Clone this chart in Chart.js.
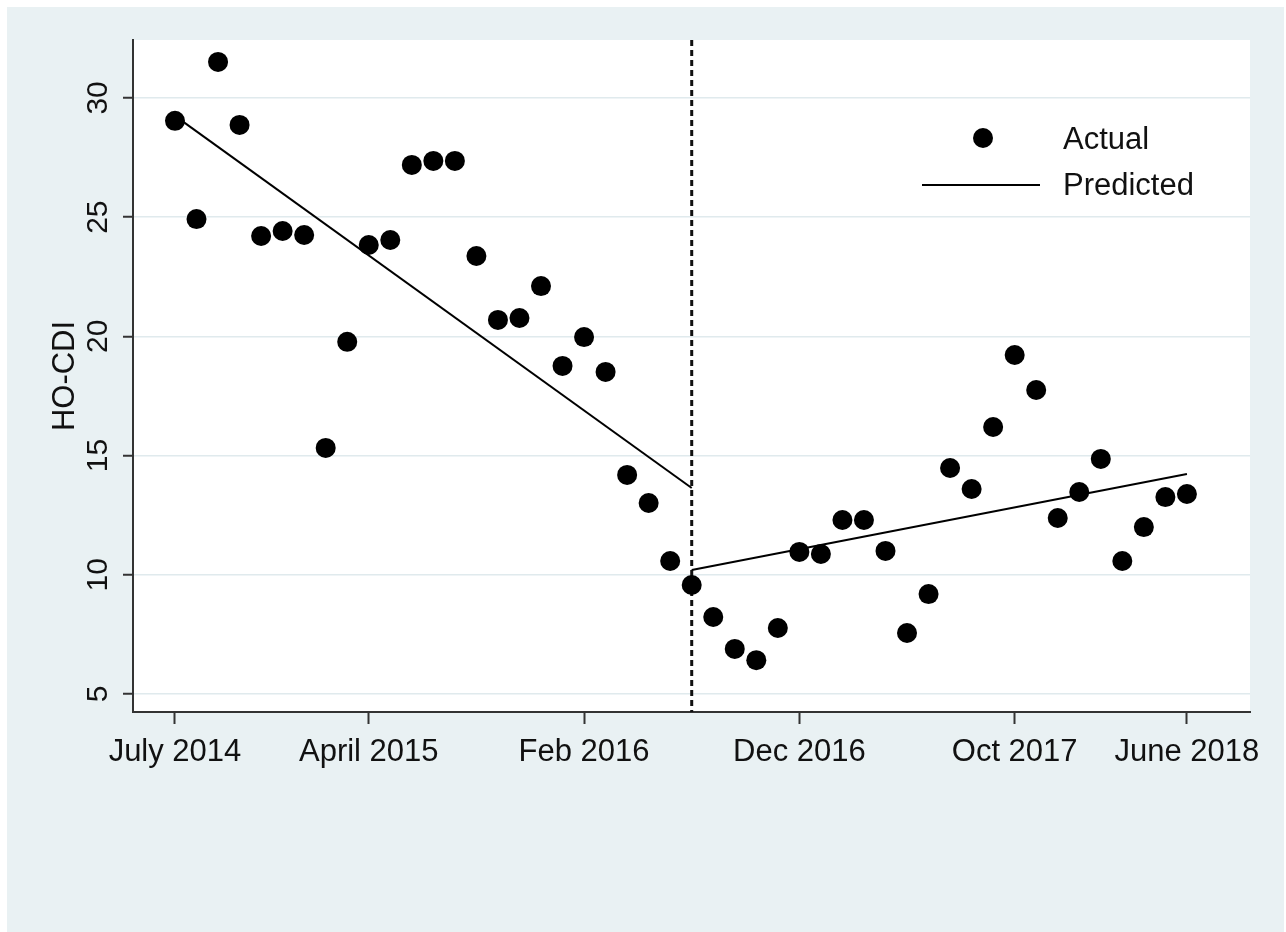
<!DOCTYPE html>
<html>
<head>
<meta charset="utf-8">
<script src="https://cdn.jsdelivr.net/npm/chart.js@4.4.1/dist/chart.umd.min.js"></script>
<style>
    html, body { margin: 0; padding: 0; background: #fff; }
    #wrap { position: relative; width: 1286px; height: 932px; }
    canvas { position: absolute; left: 0; top: 0; }
</style>
</head>
<body>
<div id="wrap"><canvas id="hoCdiChart" width="1286" height="932"></canvas></div>
<script>
//---------------------------------
//Data (month index 0 = July 2014)
const actualMonths = [0, 1, 2, 3, 4, 5, 6, 7, 8, 9, 10, 11, 12, 13, 14, 15, 16, 17, 18, 19, 20, 21, 22, 23,
    24, 25, 26, 27, 28, 29, 30, 31, 32, 33, 34, 35, 36, 37, 38, 39, 40, 41, 42, 43, 44, 45, 46, 47];
const actualValues = [29.04, 24.92, 31.51, 28.87, 24.21, 24.42, 24.25, 15.32, 19.77, 23.83, 24.04, 27.19,
    27.36, 27.36, 23.37, 20.69, 20.77, 22.11, 18.76, 19.97, 18.51, 14.19, 13.01, 10.58,
    9.57, 8.23, 6.89, 6.42, 7.77, 10.96, 10.87, 12.30, 12.30, 11.00, 7.56, 9.19,
    14.48, 13.60, 16.20, 19.22, 17.75, 12.38, 13.47, 14.86, 10.58, 12.00, 13.26, 13.39];

const predPreMonths = [0, 24];
const predPreValues = [29.25, 13.64];
const predPostMonths = [24, 47];
const predPostValues = [10.20, 14.23];

const interventionMonth = 24;

const tickMonths = [0, 9, 19, 29, 39, 47];
const tickLabels = ['July 2014', 'April 2015', 'Feb 2016', 'Dec 2016', 'Oct 2017', 'June 2018'];
const yTicks = [5, 10, 15, 20, 25, 30];
//---------------------------------

const toPoints = (xs, ys) => xs.map((x, i) => ({ x: x, y: ys[i] }));

Chart.defaults.font.family = "'Liberation Sans', Arial, sans-serif";
Chart.defaults.color = '#111';

//Start backgrounds (outer region + white plot region)
const backdropPlugin = {
    id: 'backdrop',
    beforeDraw(chart) {
        const { ctx, chartArea: a } = chart;
        ctx.save();
        ctx.fillStyle = '#ffffff';
        ctx.fillRect(0, 0, chart.width, chart.height);
        ctx.fillStyle = '#e9f1f3';
        ctx.fillRect(7, 7, chart.width - 9, chart.height - 7);
        ctx.fillStyle = '#ffffff';
        ctx.fillRect(a.left, a.top, a.right - a.left, a.bottom - a.top);
        ctx.restore();
    }
};

//Start dashed intervention line
const interventionPlugin = {
    id: 'intervention',
    beforeDatasetsDraw(chart) {
        const { ctx, chartArea: a, scales } = chart;
        const x = scales.x.getPixelForValue(interventionMonth);
        ctx.save();
        ctx.strokeStyle = '#111';
        ctx.lineWidth = 3;
        ctx.setLineDash([6, 4]);
        ctx.beginPath();
        ctx.moveTo(x, a.top);
        ctx.lineTo(x, a.bottom);
        ctx.stroke();
        ctx.restore();
    }
};

//Start legend inside the plot
const legendPlugin = {
    id: 'insideLegend',
    afterDraw(chart) {
        const { ctx } = chart;
        ctx.save();
        ctx.fillStyle = '#000';
        ctx.beginPath();
        ctx.arc(983, 138, 10, 0, Math.PI * 2);
        ctx.fill();
        ctx.strokeStyle = '#000';
        ctx.lineWidth = 2;
        ctx.beginPath();
        ctx.moveTo(922, 185);
        ctx.lineTo(1040, 185);
        ctx.stroke();
        ctx.fillStyle = '#111';
        ctx.font = "31px 'Liberation Sans', Arial, sans-serif";
        ctx.textAlign = 'left';
        ctx.textBaseline = 'middle';
        ctx.fillText('Actual', 1063, 140);
        ctx.fillText('Predicted', 1063, 186);
        ctx.restore();
    }
};

const ctx = document.getElementById('hoCdiChart');

const myChart = new Chart(ctx, {
    type: 'scatter',
    data: {
        datasets: [{
            label: 'Predicted',
            type: 'line',
            data: toPoints(predPreMonths, predPreValues),
            borderColor: '#000',
            borderWidth: 2,
            pointRadius: 0,
            fill: false
        }, {
            label: 'Predicted post',
            type: 'line',
            data: toPoints(predPostMonths, predPostValues),
            borderColor: '#000',
            borderWidth: 2,
            pointRadius: 0,
            fill: false
        }, {
            label: 'Actual',
            data: toPoints(actualMonths, actualValues),
            backgroundColor: '#000',
            borderWidth: 0,
            pointRadius: 10,
            pointHoverRadius: 10
        }]
    },
    options: {
        responsive: false,
        animation: false,
        events: [],
        layout: { padding: { left: 0, right: 36, top: 40, bottom: 160 } },
        plugins: {
            legend: { display: false },
            tooltip: { enabled: false }
        },
        scales: {
            x: {
                type: 'linear',
                min: -1.95,
                max: 49.93,
                afterBuildTicks: (s) => { s.ticks = tickMonths.map(v => ({ value: v })); },
                afterFit: (s) => { s.height = 60; },
                border: { color: '#333', width: 2 },
                grid: { drawOnChartArea: false, tickColor: '#333', tickLength: 12, tickWidth: 2 },
                ticks: {
                    autoSkip: false,
                    minRotation: 0,
                    maxRotation: 0,
                    padding: 10,
                    font: { size: 31 },
                    callback: (v, i) => tickLabels[i]
                }
            },
            y: {
                min: 4.245,
                max: 32.43,
                afterBuildTicks: (s) => { s.ticks = yTicks.map(v => ({ value: v })); },
                afterFit: (s) => { s.width = 133; },
                border: { color: '#333', width: 2 },
                grid: { color: '#e0eaed', lineWidth: 1.5, tickColor: '#333', tickLength: 10, tickWidth: 2 },
                ticks: {
                    minRotation: 90,
                    maxRotation: 90,
                    crossAlign: 'center',
                    padding: 8,
                    font: { size: 30 }
                },
                title: {
                    display: true,
                    text: 'HO-CDI',
                    padding: { top: 47, bottom: 0 },
                    font: { size: 31 }
                }
            }
        }
    },
    plugins: [backdropPlugin, interventionPlugin, legendPlugin]
});
</script>
</body>
</html>
